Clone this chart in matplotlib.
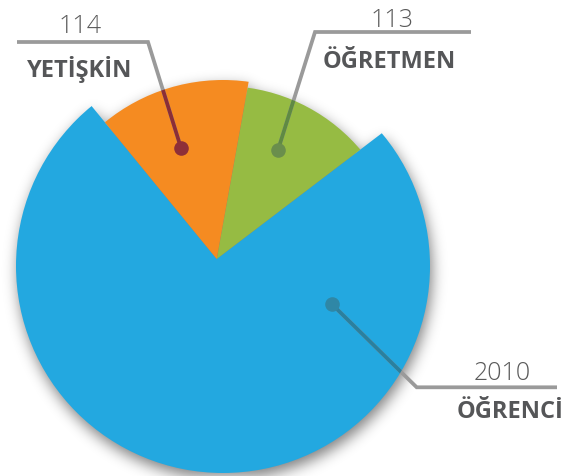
import numpy as np
import matplotlib
matplotlib.use("Agg")
import matplotlib.pyplot as plt
from matplotlib.patches import Circle

# ---- data ----
labels = ["ÖĞRETMEN", "YETİŞKİN", "ÖĞRENCİ"]
counts = ["113", "114", "2010"]
# share of the circle each slice occupies as drawn in the reference (percent)
shown_share = [11.8, 13.75, 74.45]
colors = ["#96bb43", "#f58b21", "#23a8e0"]
line_dark = ["#5f8a43", "#8b2e37", "#2a809f"]
dot_colors = ["#6a8e4c", "#8e2f38", "#2f87a6"]

W, H = 563, 477
fig = plt.figure(figsize=(W / 100, H / 100), dpi=100)
ax = fig.add_axes([0, 0, 1, 1])

# geometry (image pixel coordinates, y downward)
apex_img = (216.7, 260.0)
arc_center_img = (223.0, 267.0)
arc_radius = [180.0, 186.0, 207.0]
start_angle = 37.3


def Y(v):
    return H - v


apex = (apex_img[0], Y(apex_img[1]))
arc_c = (arc_center_img[0], Y(arc_center_img[1]))

# ---- shadow ----
shift_x, shift_y = 2.0, 6.0
yy, xx = np.mgrid[0:H, 0:W] + 0.5
xs_ = xx - shift_x
ys_ = yy - shift_y
d = np.hypot(xs_ - arc_center_img[0], ys_ - arc_center_img[1])
ang = (np.degrees(np.arctan2(-(ys_ - apex_img[1]), xs_ - apex_img[0])) - start_angle) % 360
bounds = np.cumsum([0] + shown_share) / 100 * 360
mask = np.zeros((H, W), bool)
for i in range(3):
    sel = (ang >= bounds[i]) & (ang < bounds[i + 1]) & (d < arc_radius[i])
    mask |= sel
m = mask.astype(float)
s = 7.0
r = int(3 * s)
k = np.exp(-0.5 * (np.arange(-r, r + 1) / s) ** 2)
k /= k.sum()
m = np.apply_along_axis(lambda v: np.convolve(v, k, "same"), 0, m)
m = np.apply_along_axis(lambda v: np.convolve(v, k, "same"), 1, m)
rgba = np.zeros((H, W, 4))
rgba[..., 3] = 0.5 * m
ax.imshow(rgba, extent=[0, W, 0, H], origin="upper", zorder=0, interpolation="bilinear")

# ---- pie ----
wedges, _ = ax.pie(shown_share, colors=colors, startangle=start_angle, counterclock=True,
                   center=apex, radius=260, wedgeprops=dict(linewidth=0))
for w, rad in zip(wedges, arc_radius):
    clip = Circle(arc_c, rad, transform=ax.transData)
    w.set_clip_on(True)
    w.set_clip_path(clip)
    w.set_zorder(2 if rad != max(arc_radius) else 1)

# ---- leader lines ----
grey = "#9a9a9a"
lw = 2.7
leaders = [
    [(471, 33), (315, 33), (278, 151)],       # 113
    [(17, 43), (148, 43), (181, 149)],        # 114
    [(557, 388.3), (416.7, 388.3), (331.7, 305)],  # 2010
]
for i, pts in enumerate(leaders):
    xs = [p[0] for p in pts]
    ys = [Y(p[1]) for p in pts]
    ax.plot(xs, ys, color=grey, lw=lw, solid_capstyle="butt", solid_joinstyle="miter", zorder=3)
    ln, = ax.plot(xs, ys, color=line_dark[i], lw=lw, solid_capstyle="butt", zorder=4)
    ln.set_clip_path(Circle(arc_c, arc_radius[i], transform=ax.transData))
    ax.plot(xs[-1], ys[-1], "o", ms=10.5, color=dot_colors[i], mec="none", zorder=5)

# ---- texts ----
num_font = dict(family=["Open Sans", "DejaVu Sans"], fontsize=18, color="#5a5a5a", weight="light")
lab_font = dict(family=["Open Sans", "DejaVu Sans"], fontsize=17, color="#555658", weight="bold")

ax.text(392.5, Y(26.7), counts[0], ha="center", va="baseline", **num_font)
ax.text(323, Y(68.3), labels[0], ha="left", va="baseline", **lab_font)
ax.text(80, Y(33), counts[1], ha="center", va="baseline", **num_font)
ax.text(27, Y(77.3), labels[1], ha="left", va="baseline", **lab_font)
ax.text(502.5, Y(380), counts[2], ha="center", va="baseline", **num_font)
ax.text(456.7, Y(418.3), labels[2], ha="left", va="baseline", **lab_font)

ax.set_xlim(0, W)
ax.set_ylim(0, H)
ax.set_aspect("equal")
ax.axis("off")
fig.savefig("out.png", dpi=100)
